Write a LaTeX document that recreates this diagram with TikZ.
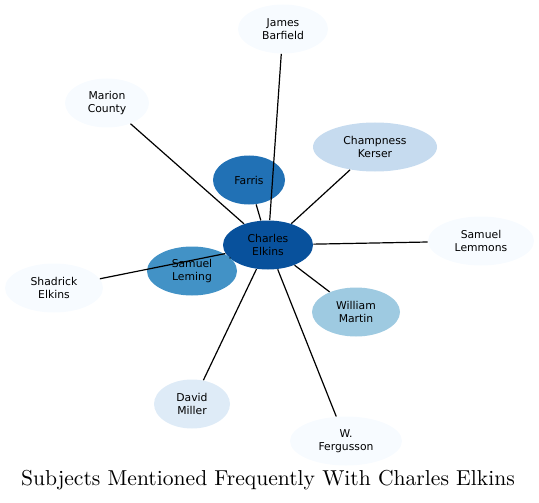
\documentclass[tikz,border=0pt]{standalone}
\usepackage{fontspec}
\usepackage{xcolor}
\usepackage{tikz}
\usetikzlibrary{shapes.geometric}
\newfontfamily\subjectfont{DejaVu Sans}
\definecolor{bluenine}{HTML}{08519C}
\definecolor{blueeight}{HTML}{2171B5}
\definecolor{blueseven}{HTML}{4292C6}
\definecolor{bluefive}{HTML}{9ECAE1}
\definecolor{bluefour}{HTML}{C6DBEF}
\definecolor{bluethree}{HTML}{DEEBF7}
\definecolor{blueone}{HTML}{F7FBFF}

\begin{document}
\begin{tikzpicture}[x=0.5pt, y=-0.5pt,
  subject/.style={ellipse, inner sep=0pt, minimum height=24.5pt, align=center,
    font=\subjectfont\fontsize{5.4}{6.3}\selectfont},
  link/.style={line width=0.6pt}]
\useasboundingbox (0,0) rectangle (539,502);
\node [subject, fill=bluenine, minimum width=45pt] (charles) at (268,245) {Charles\\Elkins};
\node [subject, fill=blueeight, minimum width=36pt] (farris) at (249,180) {Farris};
\node [subject, fill=blueseven, minimum width=45pt] (leming) at (192,271) {Samuel\\Leming};
\node [subject, fill=bluefive, minimum width=44pt] (martin) at (356,312) {William\\Martin};
\node [subject, fill=bluefour, minimum width=62pt] (kerser) at (375,147) {Champness\\Kerser};
\node [subject, fill=bluethree, minimum width=38pt] (miller) at (192,404) {David\\Miller};
\node [subject, fill=blueone, minimum width=45pt] (barfield) at (283,29) {James\\Barfield};
\node [subject, fill=blueone, minimum width=42pt] (marion) at (107,103) {Marion\\County};
\node [subject, fill=blueone, minimum width=53pt] (lemmons) at (481,241) {Samuel\\Lemmons};
\node [subject, fill=blueone, minimum width=49pt] (shadrick) at (54,288) {Shadrick\\Elkins};
\node [subject, fill=blueone, minimum width=56pt] (fergusson) at (346,441) {W.\\Fergusson};
\draw [link] (charles) -- (farris);
\draw [link] (charles) -- (leming);
\draw [link] (charles) -- (martin);
\draw [link] (charles) -- (kerser);
\draw [link] (charles) -- (miller);
\draw [link] (charles) -- (barfield);
\draw [link] (charles) -- (marion);
\draw [link] (charles) -- (lemmons);
\draw [link] (charles) -- (shadrick);
\draw [link] (charles) -- (fergusson);
\node [font=\fontsize{10.8}{13}\selectfont] (title) at (268,480) {Subjects Mentioned Frequently With Charles Elkins};
\end{tikzpicture}
\end{document}
